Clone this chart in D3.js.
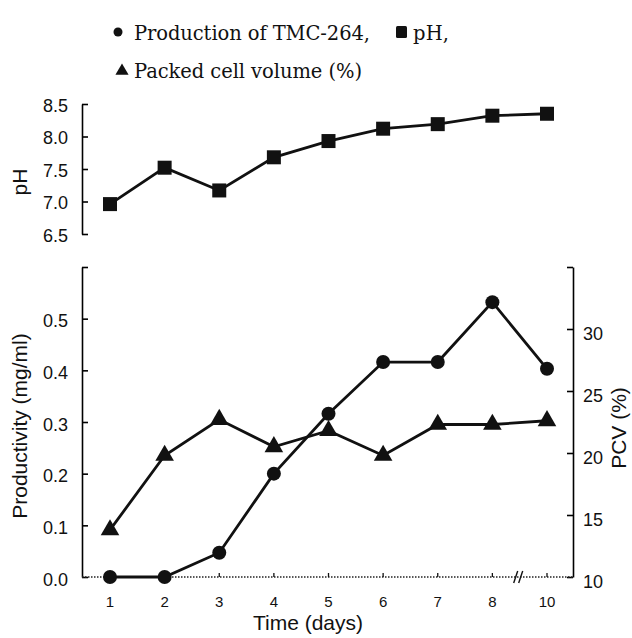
<!DOCTYPE html>
<html>
<head>
<meta charset="utf-8">
<script src="https://cdn.jsdelivr.net/npm/d3@7"></script>
<style>
  html, body { margin: 0; padding: 0; background: #fff; }
  svg { display: block; }
</style>
</head>
<body>
<svg id="chart" width="632" height="638"></svg>
<script>
// ---- data ----
const days = ["1", "2", "3", "4", "5", "6", "7", "8", "10"];
const pHValues = [6.96, 7.52, 7.17, 7.68, 7.93, 8.12, 8.19, 8.32, 8.35];
const productivity = [0.0, 0.0, 0.047, 0.2, 0.316, 0.416, 0.416, 0.532, 0.403];
const pcvValues = [13.8, 19.8, 22.7, 20.5, 21.8, 19.8, 22.3, 22.3, 22.6];
const pHTicks = [6.5, 7.0, 7.5, 8.0, 8.5];
const prodTicks = [0.0, 0.1, 0.2, 0.3, 0.4, 0.5, 0.6];
const pcvTicks = [10, 15, 20, 25, 30, 35];
const legendLabels = ["Production of TMC-264,", "pH,", "Packed cell volume (%)"];

// ---- layout ----
const svg = d3.select("#chart");
const leftX = 82, rightX = 573;
const x = d3.scalePoint().domain(days).range([110, 547]).padding(0);
const yPH = d3.scaleLinear().domain([6.5, 8.5]).range([234, 104]);
const yProd = d3.scaleLinear().domain([0, 0.6]).range([577, 267]);
const yPCV = d3.scaleLinear().domain([10, 35]).range([577, 267]);

const sans = "'Liberation Sans', Arial, sans-serif";
const serif = "'DejaVu Serif', serif";

function styleAxis(g, size) {
  g.selectAll("path.domain").attr("stroke", "#000").attr("stroke-width", 1.6);
  g.selectAll(".tick line").attr("stroke", "#000").attr("stroke-width", 1.6);
  g.selectAll(".tick text").attr("fill", "#111").style("font-family", sans).style("font-size", size + "px");
}

// ---- top panel (pH) ----
const gPH = svg.append("g").attr("transform", `translate(${leftX},0)`)
  .call(d3.axisLeft(yPH).tickValues(pHTicks).tickFormat(d3.format(".1f"))
    .tickSizeInner(-6).tickSizeOuter(0).tickPadding(14));
styleAxis(gPH, 18);
gPH.selectAll(".tick text").attr("dy", "0.4em");

const linePH = d3.line().x((d, i) => x(days[i])).y(d => yPH(d));
svg.append("path").datum(pHValues).attr("d", linePH)
  .attr("fill", "none").attr("stroke", "#111").attr("stroke-width", 2.8);
svg.selectAll("rect.ph").data(pHValues).enter().append("rect")
  .attr("class", "ph")
  .attr("x", (d, i) => x(days[i]) - 7).attr("y", d => yPH(d) - 7)
  .attr("width", 14).attr("height", 14).attr("fill", "#111");

svg.append("text").attr("transform", "translate(20,182) rotate(-90)")
  .attr("text-anchor", "middle").attr("dy", "0.35em")
  .style("font-family", sans).style("font-size", "21px").attr("fill", "#111").text("pH");

// ---- bottom panel ----
const gProd = svg.append("g").attr("transform", `translate(${leftX},0)`)
  .call(d3.axisLeft(yProd).tickValues(prodTicks)
    .tickFormat(d => d >= 0.55 ? "" : d3.format(".1f")(d))
    .tickSizeInner(-6).tickSizeOuter(0).tickPadding(14));
styleAxis(gProd, 18);
gProd.selectAll(".tick text").attr("dy", "0.45em");

const gPCV = svg.append("g").attr("transform", `translate(${rightX},0)`)
  .call(d3.axisRight(yPCV).tickValues(pcvTicks)
    .tickFormat(d => d >= 35 ? "" : d)
    .tickSizeInner(-6).tickSizeOuter(0).tickPadding(10));
styleAxis(gPCV, 18);
gPCV.selectAll(".tick text").attr("dy", "0.6em");

// x axis: dotted baseline
const gX = svg.append("g").attr("transform", "translate(0,577)");
gX.append("line").attr("x1", leftX).attr("x2", rightX).attr("y1", 0).attr("y2", 0)
  .attr("stroke", "#222").attr("stroke-width", 1.3).attr("stroke-dasharray", "1.5,1.5");
const xTicks = gX.selectAll("g.xt").data(days).enter().append("g")
  .attr("class", "xt").attr("transform", d => `translate(${x(d)},0)`);
xTicks.append("line").attr("y1", 0).attr("y2", -4).attr("stroke", "#111").attr("stroke-width", 1.3);
xTicks.append("text").attr("y", 25).attr("dy", "0.35em").attr("text-anchor", "middle")
  .style("font-family", sans).style("font-size", "15px").attr("fill", "#111").text(d => d);
// axis break marks between 8 and 10
const bx = (x("8") + x("10")) / 2 - 1;
[-3, 2].forEach(o => {
  gX.append("line").attr("x1", bx + o - 2).attr("y1", 6).attr("x2", bx + o + 2).attr("y2", -6)
    .attr("stroke", "#111").attr("stroke-width", 1.4);
});

// PCV line + triangles
const linePCV = d3.line().x((d, i) => x(days[i])).y(d => yPCV(d));
svg.append("path").datum(pcvValues).attr("d", linePCV)
  .attr("fill", "none").attr("stroke", "#111").attr("stroke-width", 2.8);
const tri = d3.symbol().type(d3.symbolTriangle).size(150);
svg.selectAll("path.pcv").data(pcvValues).enter().append("path")
  .attr("class", "pcv").attr("d", tri)
  .attr("transform", (d, i) => `translate(${x(days[i])},${yPCV(d)})`)
  .attr("fill", "#111");

// Productivity line + circles
const lineProd = d3.line().x((d, i) => x(days[i])).y(d => yProd(d));
svg.append("path").datum(productivity).attr("d", lineProd)
  .attr("fill", "none").attr("stroke", "#111").attr("stroke-width", 2.8);
svg.selectAll("circle.prod").data(productivity).enter().append("circle")
  .attr("class", "prod")
  .attr("cx", (d, i) => x(days[i])).attr("cy", d => yProd(d)).attr("r", 7)
  .attr("fill", "#111");

// axis titles
svg.append("text").attr("transform", "translate(20,426) rotate(-90)")
  .attr("text-anchor", "middle").attr("dy", "0.35em")
  .style("font-family", sans).style("font-size", "21px").attr("fill", "#111")
  .text("Productivity (mg/ml)");
svg.append("text").attr("transform", "translate(619,428) rotate(-90)")
  .attr("text-anchor", "middle").attr("dy", "0.35em")
  .style("font-family", sans).style("font-size", "21px").attr("fill", "#111")
  .text("PCV (%)");
svg.append("text").attr("x", 308).attr("y", 630).attr("text-anchor", "middle")
  .style("font-family", sans).style("font-size", "21px").attr("fill", "#111")
  .text("Time (days)");

// ---- legend ----
const lg = svg.append("g");
lg.append("circle").attr("cx", 118).attr("cy", 32).attr("r", 4.5).attr("fill", "#111");
lg.append("text").attr("x", 134).attr("y", 40).attr("textLength", 236).attr("lengthAdjust", "spacing")
  .style("font-family", serif).style("font-size", "19.5px").attr("fill", "#111").text(legendLabels[0]);
lg.append("rect").attr("x", 396).attr("y", 26).attr("width", 11).attr("height", 12)
  .attr("rx", 1.5).attr("fill", "#111");
lg.append("text").attr("x", 413).attr("y", 40).attr("textLength", 36).attr("lengthAdjust", "spacing")
  .style("font-family", serif).style("font-size", "19.5px").attr("fill", "#111").text(legendLabels[1]);
lg.append("path").attr("d", d3.symbol().type(d3.symbolTriangle).size(75)())
  .attr("transform", "translate(122,71)").attr("fill", "#111");
lg.append("text").attr("x", 134).attr("y", 78).attr("textLength", 228).attr("lengthAdjust", "spacing")
  .style("font-family", serif).style("font-size", "19.5px").attr("fill", "#111").text(legendLabels[2]);
</script>
</body>
</html>
